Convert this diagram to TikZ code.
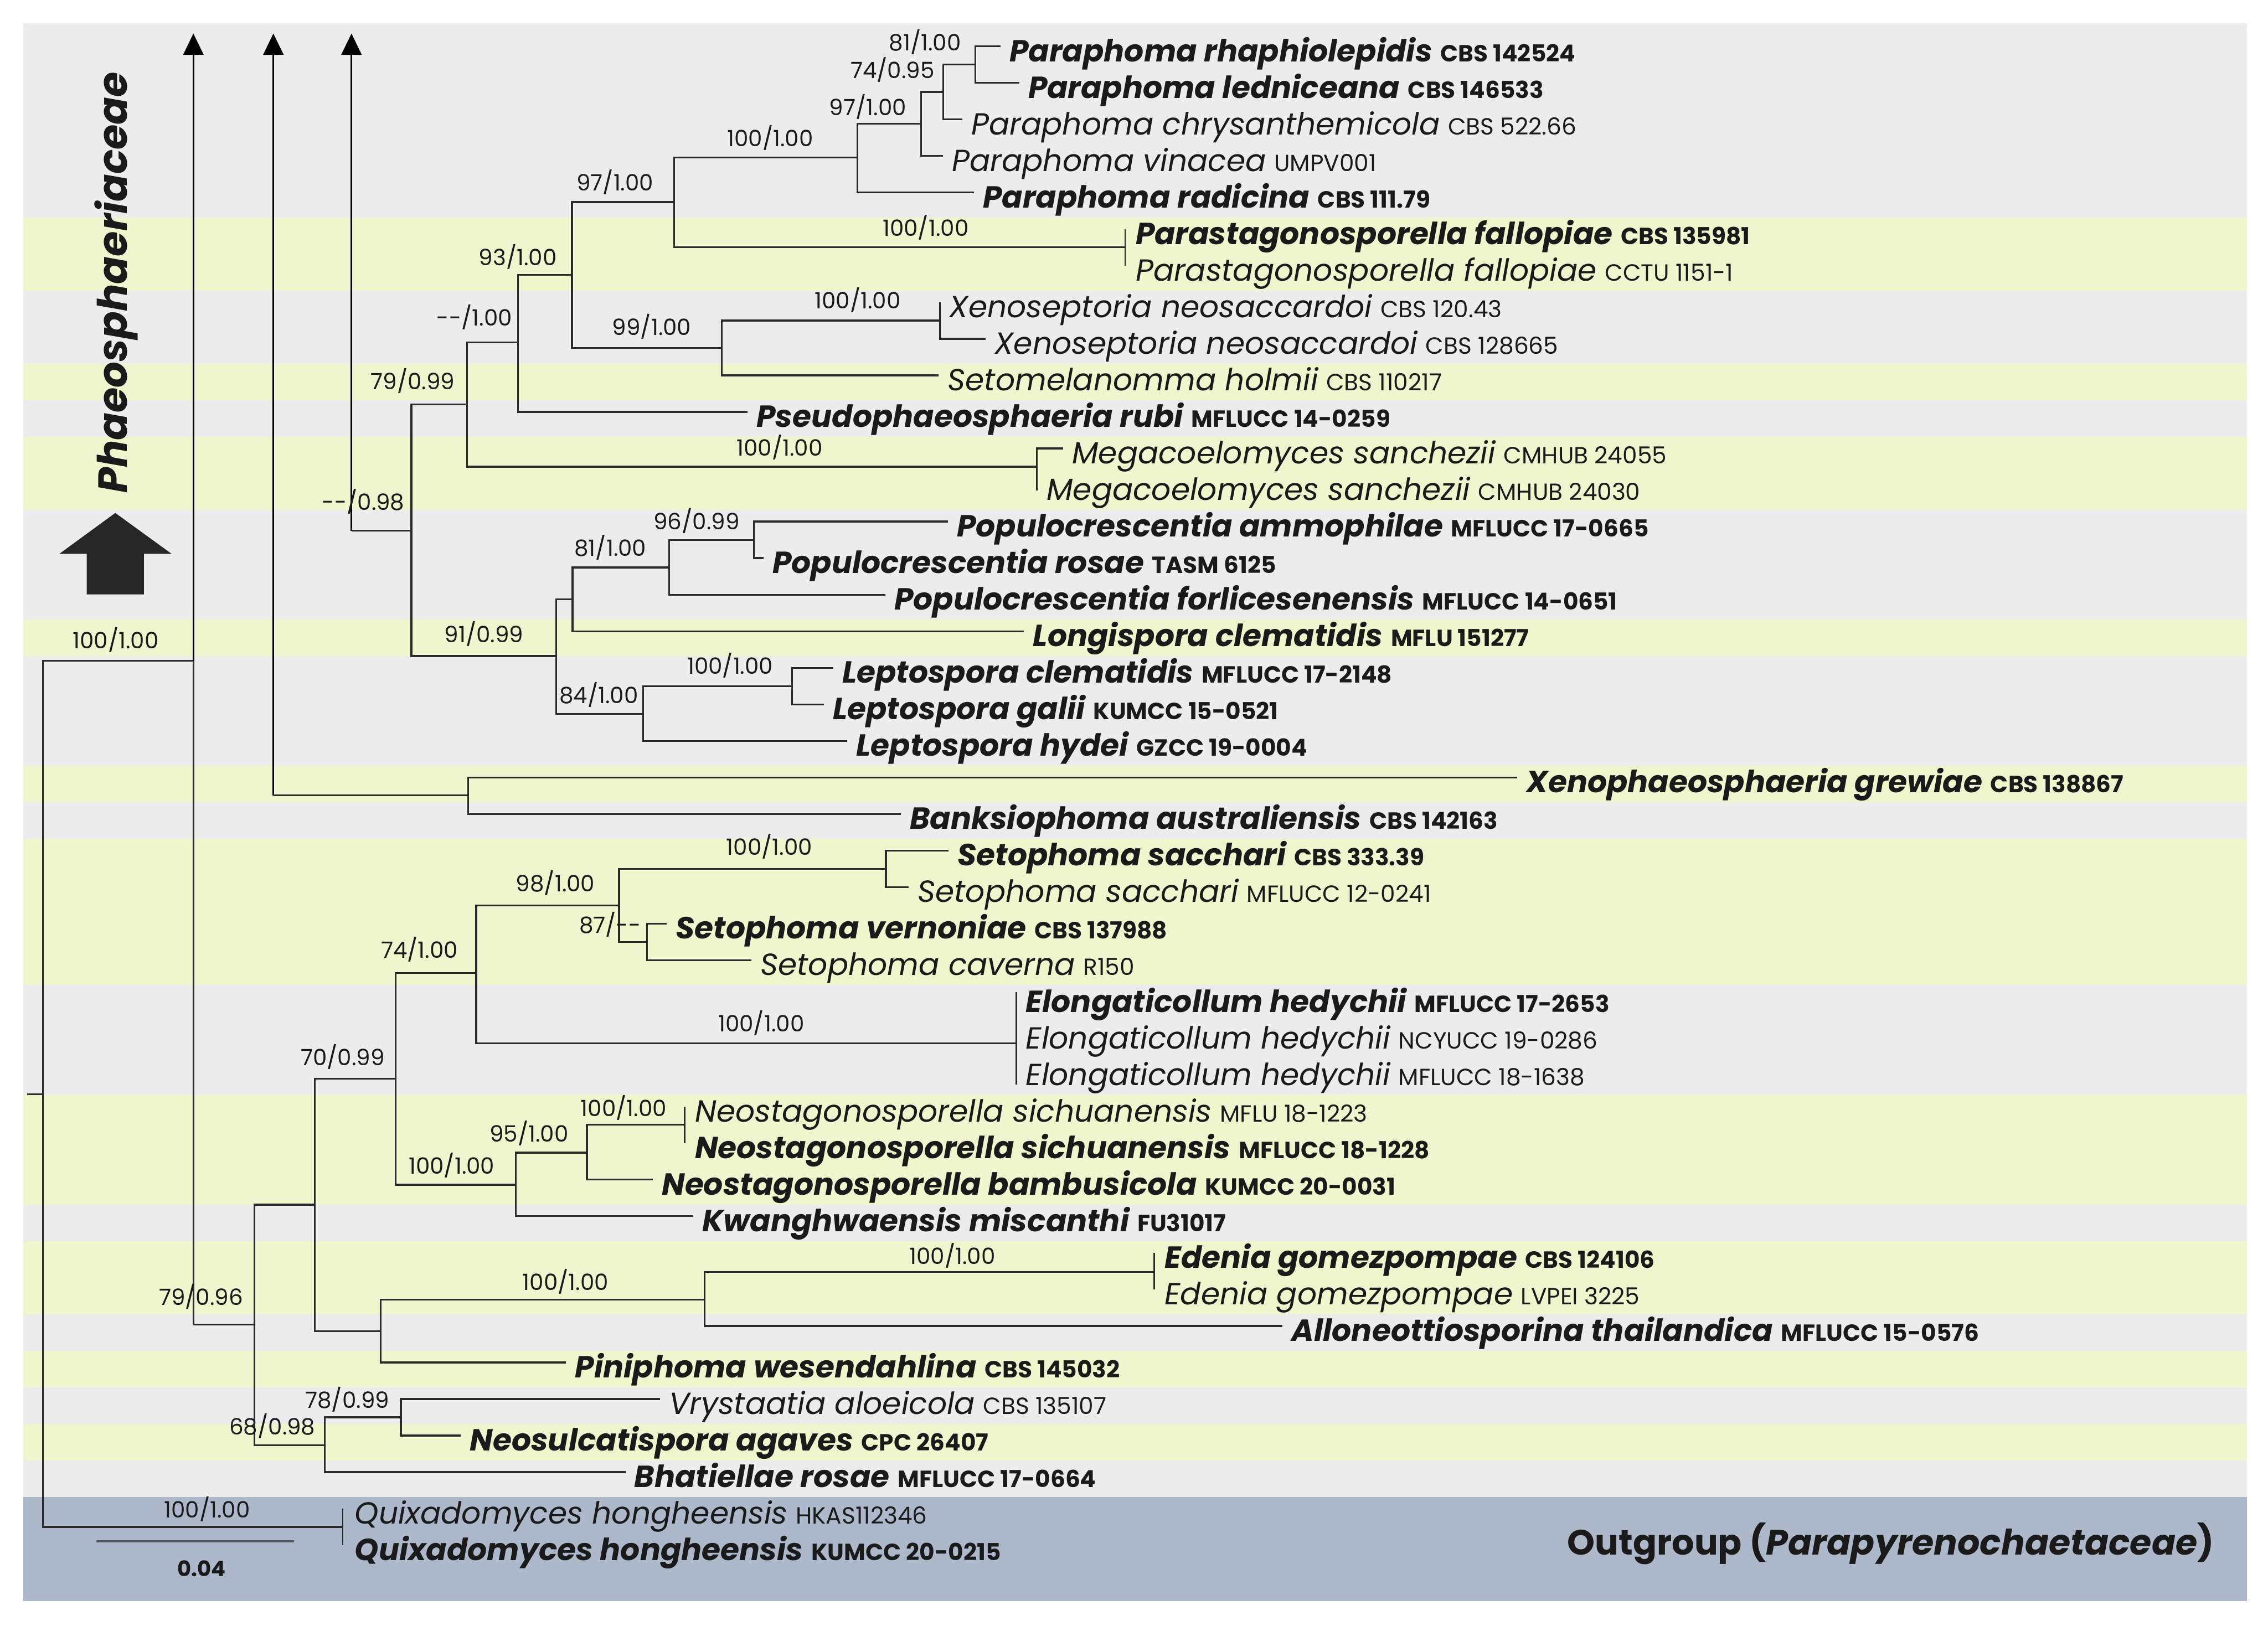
\documentclass[tikz,border=0pt]{standalone}
\usepackage{fontspec}
\setmainfont{Poppins}
\usetikzlibrary{arrows.meta}
\definecolor{bgGray}{HTML}{ECECEC}
\definecolor{bgYel}{HTML}{EFF5CC}
\definecolor{bgBlue}{HTML}{ADB9CB}
\definecolor{ink}{HTML}{1A1A1A}
\definecolor{lineC}{HTML}{2A2A2A}
\newcommand{\taxb}[2]{{\fontsize{15}{18}\selectfont\bfseries\itshape #1}\hspace{4pt}{\fontsize{11.5}{14}\selectfont\bfseries #2}}
\newcommand{\taxr}[2]{{\fontsize{15}{18}\selectfont\itshape #1}\hspace{4pt}{\fontsize{11.5}{14}\selectfont #2}}
\begin{document}
\begin{tikzpicture}[x=0.025cm,y=-0.025cm,
  br/.style={line width=0.9pt,draw=lineC},
  brk/.style={line width=0.7pt,draw=lineC},
  arr/.style={line width=0.8pt,draw=black,-{Triangle[length=10.5pt,width=10pt]}},
  tx/.style={anchor=base west,inner sep=0pt,text=ink},
  lab/.style={anchor=base,inner sep=0pt,text=ink,font=\fontsize{11}{13}\selectfont}]
\useasboundingbox (0,0) rectangle (1568,1124);
% background bands
\fill[bgGray] (16,16) rectangle (1553.5,150.26);
\fill[bgYel] (16,150.26) rectangle (1553.5,200.82);
\fill[bgGray] (16,200.82) rectangle (1553.5,251.38);
\fill[bgYel] (16,251.38) rectangle (1553.5,276.66);
\fill[bgGray] (16,276.66) rectangle (1553.5,301.94);
\fill[bgYel] (16,301.94) rectangle (1553.5,352.50);
\fill[bgGray] (16,352.50) rectangle (1553.5,428.34);
\fill[bgYel] (16,428.34) rectangle (1553.5,453.62);
\fill[bgGray] (16,453.62) rectangle (1553.5,529.46);
\fill[bgYel] (16,529.46) rectangle (1553.5,554.74);
\fill[bgGray] (16,554.74) rectangle (1553.5,580.02);
\fill[bgYel] (16,580.02) rectangle (1553.5,681.14);
\fill[bgGray] (16,681.14) rectangle (1553.5,756.98);
\fill[bgYel] (16,756.98) rectangle (1553.5,832.82);
\fill[bgGray] (16,832.82) rectangle (1553.5,858.10);
\fill[bgYel] (16,858.10) rectangle (1553.5,908.66);
\fill[bgGray] (16,908.66) rectangle (1553.5,933.94);
\fill[bgYel] (16,933.94) rectangle (1553.5,959.22);
\fill[bgGray] (16,959.22) rectangle (1553.5,984.50);
\fill[bgYel] (16,984.50) rectangle (1553.5,1009.78);
\fill[bgGray] (16,1009.78) rectangle (1553.5,1035.06);
\fill[bgBlue] (16,1035.06) rectangle (1553.5,1107);
% big arrow and clade label
\fill[black!85] (79.7,354.7) -- (118.7,383) -- (99.5,383) -- (99.5,411) -- (60,411) -- (60,383) -- (41,383) -- cycle;
\node[rotate=90,anchor=base,inner sep=0pt,text=ink,font=\fontsize{20}{22}\selectfont\bfseries\itshape] (clade) at (87.7,195.4) {Phaeosphaeriaceae};
\node[anchor=base east,inner sep=0pt,text=ink,font=\fontsize{17.3}{20}\selectfont\bfseries] (outg) at (1531,1075) {Outgroup (\textit{Parapyrenochaetaceae})};
% internal nodes
\coordinate (Rs) at (18.8,756.6);
\coordinate (R) at (29.8,756.6);
\coordinate (A1) at (133.7,457);
\coordinate (A1top) at (133.7,23.2);
\coordinate (A2) at (189,550);
\coordinate (A2top) at (189,23.2);
\coordinate (A3) at (243,367);
\coordinate (A3top) at (243,23.2);
\coordinate (Na) at (284.4,367);
\coordinate (Nb) at (323,279.6);
\coordinate (Nc) at (358.2,236.8);
\coordinate (Nd) at (395.5,190);
\coordinate (Ne) at (466,139.7);
\coordinate (Pa) at (592.9,108.9);
\coordinate (P97) at (636.8,85.5);
\coordinate (P74) at (652.2,63.6);
\coordinate (P81) at (674.2,44.6);
\coordinate (Ps) at (777.9,171);
\coordinate (Nf) at (499,240.5);
\coordinate (Xs) at (649.7,221.6);
\coordinate (Mg) at (716.8,322.7);
\coordinate (Ng) at (384.5,453.6);
\coordinate (Nh) at (395.8,414.4);
\coordinate (P96) at (462.5,392.4);
\coordinate (Pam) at (521.3,373.3);
\coordinate (N84) at (444.7,493.6);
\coordinate (L100) at (547.6,474.4);
\coordinate (Nx) at (323.7,550);
\coordinate (N176) at (176,915.8);
\coordinate (Ni) at (217.7,833);
\coordinate (Nj) at (273.5,746);
\coordinate (Nk) at (329.2,672.7);
\coordinate (S98) at (428,626);
\coordinate (Ssac) at (612.5,600.8);
\coordinate (S87) at (447.2,651.4);
\coordinate (El) at (702.7,721.5);
\coordinate (Nm) at (356.5,819.2);
\coordinate (N95) at (405.8,797);
\coordinate (Ns) at (473.4,777.8);
\coordinate (Nl) at (263.2,920.4);
\coordinate (E100) at (487.1,898.6);
\coordinate (Ed) at (798,879.4);
\coordinate (N68) at (224.6,999.2);
\coordinate (N78) at (277.2,980);
\coordinate (Qx) at (236.9,1055.8);
% tips
\coordinate (t1) at (691.8,32.0);
\coordinate (t2) at (704.6,57.28);
\coordinate (t3) at (665.4,82.56);
\coordinate (t4) at (652,107.84);
\coordinate (t5) at (673.4,133.12);
\coordinate (t6) at (777.9,158.4);
\coordinate (t7) at (777.9,183.68);
\coordinate (t8) at (649.7,208.96);
\coordinate (t9) at (681.5,234.24);
\coordinate (t10) at (649,259.52);
\coordinate (t11) at (516.8,284.8);
\coordinate (t12) at (735,310.08);
\coordinate (t13) at (716.8,339);
\coordinate (t14) at (655.3,360.64);
\coordinate (t15) at (527.8,385.92);
\coordinate (t16) at (612,411.2);
\coordinate (t17) at (708,436.48);
\coordinate (t18) at (576,461.76);
\coordinate (t19) at (569.6,487.04);
\coordinate (t20) at (585.7,512.32);
\coordinate (t21) at (1049,537.6);
\coordinate (t22) at (622.8,562.88);
\coordinate (t23) at (655.8,588.16);
\coordinate (t24) at (628.3,613.44);
\coordinate (t25) at (461,638.72);
\coordinate (t26) at (519.5,664);
\coordinate (t27) at (702.7,686);
\coordinate (t29) at (702.7,750);
\coordinate (t30) at (473.4,765.12);
\coordinate (t31) at (473.4,790.4);
\coordinate (t32) at (451.4,815.68);
\coordinate (t33) at (479.3,840.96);
\coordinate (t34) at (798,866.24);
\coordinate (t35) at (798,891.52);
\coordinate (t36) at (886.7,916.8);
\coordinate (t37) at (391.4,942.08);
\coordinate (t38) at (456.3,967.36);
\coordinate (t39) at (318.6,992.64);
\coordinate (t40) at (432.4,1017.92);
\coordinate (t41) at (236.9,1043.2);
\coordinate (t42) at (236.9,1068.48);
% branches
\draw[br] (Rs) -- (R);
\draw[br] (R) |- (A1);
\draw[br] (R) |- (Qx);
\draw[arr] (A1) -- (A1top);
\draw[br] (A1) |- (N176);
\draw[arr] (A2) -- (A2top);
\draw[br] (A2) -- (Nx);
\draw[arr] (A3) -- (A3top);
\draw[br] (A3) -- (Na);
\draw[br] (Na) |- (Nb);
\draw[br] (Na) |- (Ng);
\draw[br] (Nb) |- (Nc);
\draw[br] (Nb) |- (Mg);
\draw[br] (Nc) |- (Nd);
\draw[br] (Nc) |- (t11);
\draw[br] (Nd) |- (Ne);
\draw[br] (Nd) |- (Nf);
\draw[br] (Ne) |- (Pa);
\draw[br] (Ne) |- (Ps);
\draw[br] (Pa) |- (P97);
\draw[br] (Pa) |- (t5);
\draw[br] (P97) |- (P74);
\draw[br] (P97) |- (t4);
\draw[br] (P74) |- (P81);
\draw[br] (P74) |- (t3);
\draw[br] (P81) |- (t1);
\draw[br] (P81) |- (t2);
\draw[brk] (t6) -- (t7);
\draw[br] (Nf) |- (Xs);
\draw[br] (Nf) |- (t10);
\draw[br] (Xs) |- (t8);
\draw[br] (Xs) |- (t9);
\draw[br] (Mg) |- (t12);
\draw[brk] (Mg) -- (t13);
\draw[br] (Ng) |- (Nh);
\draw[br] (Ng) |- (N84);
\draw[br] (Nh) |- (P96);
\draw[br] (Nh) |- (t17);
\draw[br] (P96) |- (Pam);
\draw[br] (P96) |- (t16);
\draw[br] (Pam) |- (t14);
\draw[br] (Pam) |- (t15);
\draw[br] (N84) |- (L100);
\draw[br] (N84) |- (t20);
\draw[br] (L100) |- (t18);
\draw[br] (L100) |- (t19);
\draw[br] (Nx) |- (t21);
\draw[br] (Nx) |- (t22);
\draw[br] (N176) |- (Ni);
\draw[br] (N176) |- (N68);
\draw[br] (Ni) |- (Nj);
\draw[br] (Ni) |- (Nl);
\draw[br] (Nj) |- (Nk);
\draw[br] (Nj) |- (Nm);
\draw[br] (Nk) |- (S98);
\draw[br] (Nk) |- (El);
\draw[br] (S98) |- (Ssac);
\draw[br] (S98) |- (S87);
\draw[br] (Ssac) |- (t23);
\draw[br] (Ssac) |- (t24);
\draw[br] (S87) |- (t25);
\draw[br] (S87) |- (t26);
\draw[brk] (t27) -- (t29);
\draw[br] (Nm) |- (N95);
\draw[br] (Nm) |- (t33);
\draw[br] (N95) |- (Ns);
\draw[br] (N95) |- (t32);
\draw[brk] (t30) -- (t31);
\draw[br] (Nl) |- (E100);
\draw[br] (Nl) |- (t37);
\draw[br] (E100) |- (Ed);
\draw[br] (E100) |- (t36);
\draw[brk] (t34) -- (t35);
\draw[br] (N68) |- (N78);
\draw[br] (N68) |- (t40);
\draw[br] (N78) |- (t38);
\draw[br] (N78) |- (t39);
\draw[brk] (t41) -- (t42);
% scale bar
\coordinate (sb1) at (66.7,1065.8);
\coordinate (sb2) at (203.4,1065.8);
\draw[line width=1.2pt,draw=black!65] (sb1) -- (sb2);
\node[lab,font=\fontsize{10.5}{12}\selectfont\bfseries] (sbl) at (139.3,1090) {0.04};
% taxon labels
\node[tx] (L1) at (697.8,42.5) {\taxb{Paraphoma rhaphiolepidis}{CBS 142524}};
\node[tx] (L2) at (710.6,67.78) {\taxb{Paraphoma ledniceana}{CBS 146533}};
\node[tx] (L3) at (671.4,93.06) {\taxr{Paraphoma chrysanthemicola}{CBS 522.66}};
\node[tx] (L4) at (658,118.34) {\taxr{Paraphoma vinacea}{UMPV001}};
\node[tx] (L5) at (679.4,143.62) {\taxb{Paraphoma radicina}{CBS 111.79}};
\node[tx] (L6) at (784.9,168.9) {\taxb{Parastagonosporella fallopiae}{CBS 135981}};
\node[tx] (L7) at (784.9,194.18) {\taxr{Parastagonosporella fallopiae}{CCTU 1151-1}};
\node[tx] (L8) at (656.2,219.46) {\taxr{Xenoseptoria neosaccardoi}{CBS 120.43}};
\node[tx] (L9) at (687.5,244.74) {\taxr{Xenoseptoria neosaccardoi}{CBS 128665}};
\node[tx] (L10) at (655,270.02) {\taxr{Setomelanomma holmii}{CBS 110217}};
\node[tx] (L11) at (522.8,295.3) {\taxb{Pseudophaeosphaeria rubi}{MFLUCC 14-0259}};
\node[tx] (L12) at (741,320.58) {\taxr{Megacoelomyces sanchezii}{CMHUB 24055}};
\node[tx] (L13) at (723.4,345.86) {\taxr{Megacoelomyces sanchezii}{CMHUB 24030}};
\node[tx] (L14) at (661.3,371.14) {\taxb{Populocrescentia ammophilae}{MFLUCC 17-0665}};
\node[tx] (L15) at (533.8,396.42) {\taxb{Populocrescentia rosae}{TASM 6125}};
\node[tx] (L16) at (618,421.7) {\taxb{Populocrescentia forlicesenensis}{MFLUCC 14-0651}};
\node[tx] (L17) at (714,446.98) {\taxb{Longispora clematidis}{MFLU 151277}};
\node[tx] (L18) at (582,472.26) {\taxb{Leptospora clematidis}{MFLUCC 17-2148}};
\node[tx] (L19) at (575.6,497.54) {\taxb{Leptospora galii}{KUMCC 15-0521}};
\node[tx] (L20) at (591.7,522.82) {\taxb{Leptospora hydei}{GZCC 19-0004}};
\node[tx] (L21) at (1055,548.1) {\taxb{Xenophaeosphaeria grewiae}{CBS 138867}};
\node[tx] (L22) at (628.8,573.38) {\taxb{Banksiophoma australiensis}{CBS 142163}};
\node[tx] (L23) at (661.8,598.66) {\taxb{Setophoma sacchari}{CBS 333.39}};
\node[tx] (L24) at (634.3,623.94) {\taxr{Setophoma sacchari}{MFLUCC 12-0241}};
\node[tx] (L25) at (467,649.22) {\taxb{Setophoma vernoniae}{CBS 137988}};
\node[tx] (L26) at (525.5,674.5) {\taxr{Setophoma caverna}{R150}};
\node[tx] (L27) at (709,699.78) {\taxb{Elongaticollum hedychii}{MFLUCC 17-2653}};
\node[tx] (L28) at (709,725.06) {\taxr{Elongaticollum hedychii}{NCYUCC 19-0286}};
\node[tx] (L29) at (709,750.34) {\taxr{Elongaticollum hedychii}{MFLUCC 18-1638}};
\node[tx] (L30) at (480.3,775.62) {\taxr{Neostagonosporella sichuanensis}{MFLU 18-1223}};
\node[tx] (L31) at (480.3,800.9) {\taxb{Neostagonosporella sichuanensis}{MFLUCC 18-1228}};
\node[tx] (L32) at (457.4,826.18) {\taxb{Neostagonosporella bambusicola}{KUMCC 20-0031}};
\node[tx] (L33) at (485.3,851.46) {\taxb{Kwanghwaensis miscanthi}{FU31017}};
\node[tx] (L34) at (805,876.74) {\taxb{Edenia gomezpompae}{CBS 124106}};
\node[tx] (L35) at (805,902.02) {\taxr{Edenia gomezpompae}{LVPEI 3225}};
\node[tx] (L36) at (892.7,927.3) {\taxb{Alloneottiosporina thailandica}{MFLUCC 15-0576}};
\node[tx] (L37) at (397.4,952.58) {\taxb{Piniphoma wesendahlina}{CBS 145032}};
\node[tx] (L38) at (462.3,977.86) {\taxr{Vrystaatia aloeicola}{CBS 135107}};
\node[tx] (L39) at (324.6,1003.14) {\taxb{Neosulcatispora agaves}{CPC 26407}};
\node[tx] (L40) at (438.4,1028.42) {\taxb{Bhatiellae rosae}{MFLUCC 17-0664}};
\node[tx] (L41) at (245,1053.7) {\taxr{Quixadomyces hongheensis}{HKAS112346}};
\node[tx] (L42) at (245,1078.98) {\taxb{Quixadomyces hongheensis}{KUMCC 20-0215}};
% support values
\node[lab] (s1) at (639.6,35.0) {81/1.00};
\node[lab] (s2) at (617,54.2) {74/0.95};
\node[lab] (s3) at (600,79.8) {97/1.00};
\node[lab] (s4) at (532.5,101.2) {100/1.00};
\node[lab] (s5) at (425.2,131.8) {97/1.00};
\node[lab] (s6) at (640,163.1) {100/1.00};
\node[lab] (s7) at (358,183.5) {93/1.00};
\node[lab] (s8) at (328,225.3) {-{}-/1.00};
\node[lab] (s9) at (450.6,231.7) {99/1.00};
\node[lab] (s10) at (593,213.5) {100/1.00};
\node[lab] (s11) at (285.4,269.2) {79/0.99};
\node[lab] (s12) at (539,315.3) {100/1.00};
\node[lab] (s13) at (251.2,352.8) {-{}-/0.98};
\node[lab] (s14) at (481.6,366.2) {96/0.99};
\node[lab] (s15) at (422,384.5) {81/1.00};
\node[lab] (s16) at (334.6,444.1) {91/0.99};
\node[lab] (s17) at (504.8,466.2) {100/1.00};
\node[lab] (s18) at (414,486.3) {84/1.00};
\node[lab] (s19) at (80,448.3) {100/1.00};
\node[lab] (s20) at (531.9,591.4) {100/1.00};
\node[lab] (s21) at (384,616.7) {98/1.00};
\node[lab] (s22) at (421.8,645.1) {87/-{}-};
\node[lab] (s23) at (290,662.5) {74/1.00};
\node[lab] (s24) at (526.3,713.5) {100/1.00};
\node[lab] (s25) at (236.9,736.8) {70/0.99};
\node[lab] (s26) at (431.2,772.1) {100/1.00};
\node[lab] (s27) at (365.8,789.5) {95/1.00};
\node[lab] (s28) at (312.3,811.9) {100/1.00};
\node[lab] (s29) at (658.4,874.2) {100/1.00};
\node[lab] (s30) at (391,892.2) {100/1.00};
\node[lab] (s31) at (139,902.3) {79/0.96};
\node[lab] (s32) at (240.1,973.5) {78/0.99};
\node[lab] (s33) at (188.3,991.9) {68/0.98};
\node[lab] (s34) at (143.2,1049.4) {100/1.00};
\end{tikzpicture}
\end{document}
